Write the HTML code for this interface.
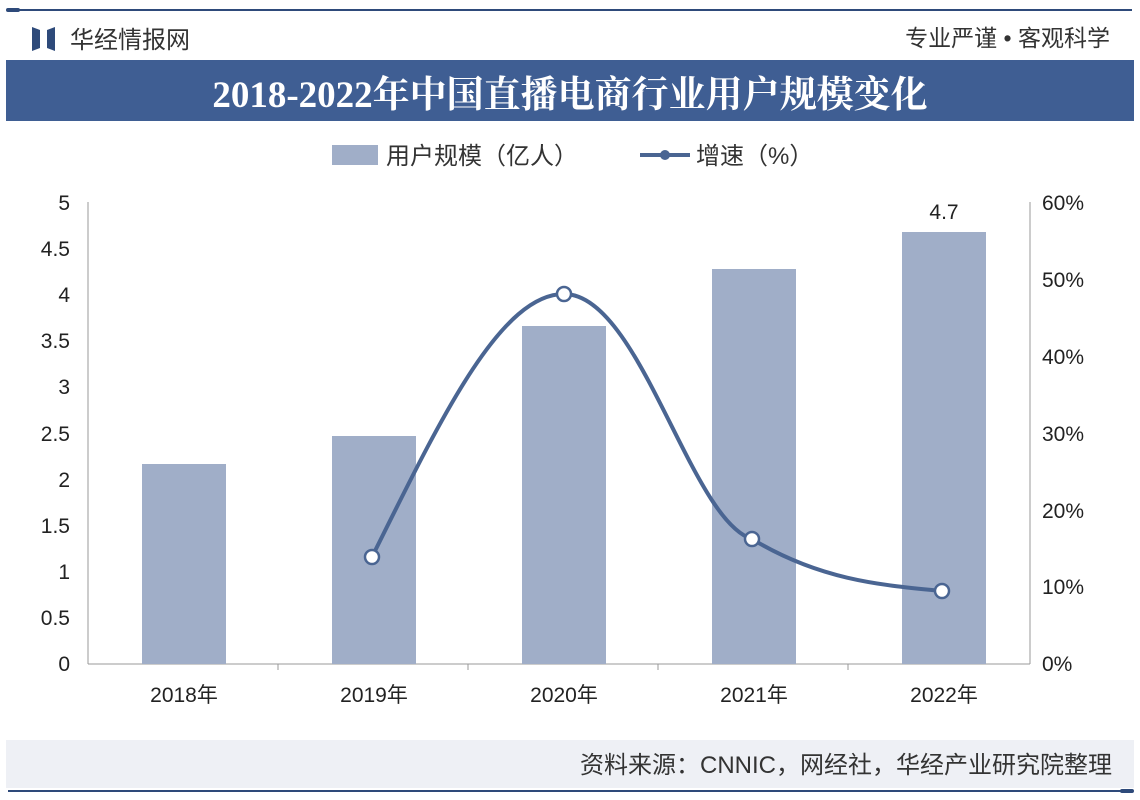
<!DOCTYPE html>
<html><head><meta charset="utf-8"><style>
body{margin:0;background:#fff;}
svg{display:block;font-family:"Liberation Sans","Noto Sans CJK SC",sans-serif;}
</style></head><body>
<svg width="1140" height="800" viewBox="0 0 1140 800">
<rect width="1140" height="800" fill="#fff"/>
<line x1="8" y1="10" x2="1132" y2="10" stroke="#2e4a7a" stroke-width="2"/>
<rect x="6" y="8" width="14" height="4" rx="2" fill="#2e4a7a"/>
<polygon points="32,27 40,30 40,48 32,51" fill="#2e4a7a"/>
<polygon points="55,27 47,30 47,48 55,51" fill="#2e4a7a"/>
<text x="70" y="48" font-size="24" fill="#333">华经情报网</text>
<text x="1110" y="46" font-size="23" fill="#333" text-anchor="end">专业严谨 • 客观科学</text>
<rect x="6" y="60" width="1128" height="61" fill="#3f5e93"/>
<text x="570" y="107" font-size="37" font-weight="bold" fill="#fff" text-anchor="middle" font-family="Liberation Serif,Noto Serif CJK SC,serif">2018-2022年中国直播电商行业用户规模变化</text>
<rect x="332" y="145" width="46" height="20" fill="#a0aec8"/>
<text x="386" y="164" font-size="24" fill="#333">用户规模（亿人）</text>
<line x1="640" y1="155" x2="690" y2="155" stroke="#4a6592" stroke-width="4"/>
<circle cx="665" cy="155" r="5" fill="#4a6592"/>
<text x="696" y="164" font-size="24" fill="#333">增速（%）</text>
<g font-size="21" fill="#222">
<text x="70" y="671" text-anchor="end">0</text>
<text x="70" y="625" text-anchor="end">0.5</text>
<text x="70" y="579" text-anchor="end">1</text>
<text x="70" y="533" text-anchor="end">1.5</text>
<text x="70" y="487" text-anchor="end">2</text>
<text x="70" y="441" text-anchor="end">2.5</text>
<text x="70" y="394" text-anchor="end">3</text>
<text x="70" y="348" text-anchor="end">3.5</text>
<text x="70" y="302" text-anchor="end">4</text>
<text x="70" y="256" text-anchor="end">4.5</text>
<text x="70" y="210" text-anchor="end">5</text>
<text x="1042" y="671">0%</text>
<text x="1042" y="594">10%</text>
<text x="1042" y="518">20%</text>
<text x="1042" y="441">30%</text>
<text x="1042" y="364">40%</text>
<text x="1042" y="287">50%</text>
<text x="1042" y="210">60%</text>
</g>
<line x1="88" y1="202" x2="88" y2="664" stroke="#999"/>
<line x1="1030" y1="202" x2="1030" y2="664" stroke="#999"/>
<line x1="88" y1="664" x2="1030" y2="664" stroke="#999"/>
<g stroke="#999"><line x1="278" y1="664" x2="278" y2="670"/><line x1="468" y1="664" x2="468" y2="670"/><line x1="658" y1="664" x2="658" y2="670"/><line x1="848" y1="664" x2="848" y2="670"/></g>
<g fill="#a0aec8">
<rect x="142" y="464" width="84" height="200"/>
<rect x="332" y="436" width="84" height="228"/>
<rect x="522" y="326" width="84" height="338"/>
<rect x="712" y="269" width="84" height="395"/>
<rect x="902" y="232" width="84" height="432"/>
</g>
<text x="944" y="219" font-size="21" fill="#222" text-anchor="middle">4.7</text>
<path d="M372,557 C440,420 500,294 564,294 C640,294 690,520 752,539 C820,580 880,585 942,591" fill="none" stroke="#4a6592" stroke-width="4"/>
<g fill="#fff" stroke="#4a6592" stroke-width="2.5">
<circle cx="372" cy="557" r="7"/><circle cx="564" cy="294" r="7"/><circle cx="752" cy="539" r="7"/><circle cx="942" cy="591" r="7"/>
</g>
<g font-size="21" fill="#222" text-anchor="middle">
<text x="184" y="702">2018年</text><text x="374" y="702">2019年</text><text x="564" y="702">2020年</text><text x="754" y="702">2021年</text><text x="944" y="702">2022年</text>
</g>
<rect x="6" y="740" width="1128" height="48" fill="#eef0f5"/>
<text x="1112" y="773" font-size="24" fill="#333" text-anchor="end">资料来源：CNNIC，网经社，华经产业研究院整理</text>
<line x1="8" y1="791" x2="1132" y2="791" stroke="#2e4a7a" stroke-width="2"/>
<rect x="1120" y="789" width="14" height="4" rx="2" fill="#2e4a7a"/>
</svg>
</body></html>
